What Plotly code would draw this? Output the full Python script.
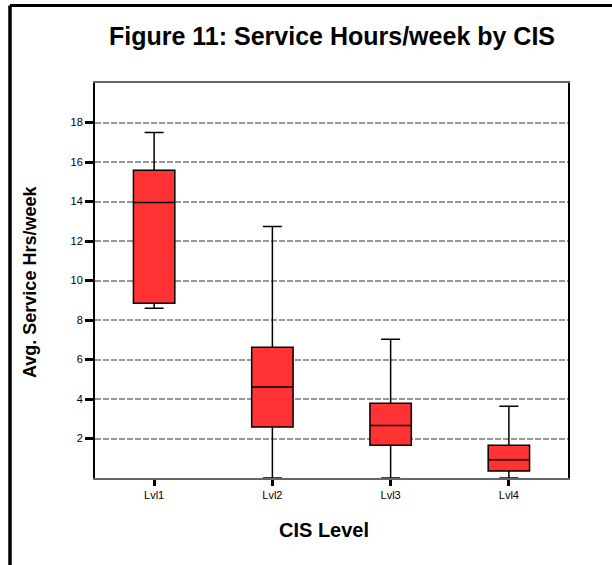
import plotly.graph_objects as go

# Data
categories = ["Lvl1", "Lvl2", "Lvl3", "Lvl4"]
lower_whisker = [8.6, 0.0, 0.0, 0.0]
q1_values = [8.85, 2.58, 1.66, 0.36]
median_values = [13.95, 4.61, 2.66, 0.93]
q3_values = [15.58, 6.62, 3.78, 1.66]
upper_whisker = [17.5, 12.73, 7.03, 3.63]
y_tick_values = [2, 4, 6, 8, 10, 12, 14, 16, 18]

W, H = 612, 565
L, R, T, B = 95, 568, 83, 478  # plot area in px


def px_x(px):
    return (px - L) / (R - L)


def px_y(py):
    return (B - py) / (B - T)


FONT = "Liberation Sans, Arial, sans-serif"

fig = go.Figure()
fig.add_trace(go.Box(
    x=categories,
    q1=q1_values,
    median=median_values,
    q3=q3_values,
    lowerfence=lower_whisker,
    upperfence=upper_whisker,
    fillcolor="#FF3333",
    line=dict(color="black", width=1.5),
    whiskerwidth=0.46,
    boxpoints=False,
    showlegend=False,
    hoverinfo="skip",
))

fig.update_layout(
    width=W, height=H,
    margin=dict(l=L, r=W - R, t=T, b=H - B),
    paper_bgcolor="white",
    plot_bgcolor="white",
    boxgap=0.5,
    font=dict(family=FONT, color="black"),
    showlegend=False,
)

fig.update_xaxes(
    type="category",
    range=[-0.5, 3.5],
    showline=True, linecolor="#666666", linewidth=2, mirror=True,
    ticks="outside", ticklen=6, tickwidth=3, tickcolor="black",
    tickfont=dict(size=11, family=FONT, color="black"),
    showgrid=False, zeroline=False,
)
fig.update_yaxes(
    range=[0, 20],
    tickvals=y_tick_values,
    ticktext=[str(v) for v in y_tick_values],
    showline=True, linecolor="black", linewidth=2, mirror=True,
    ticks="outside", ticklen=8, tickwidth=3, tickcolor="black",
    tickfont=dict(size=11, family=FONT, color="black"),
    showgrid=True, gridcolor="#999999", gridwidth=1.5, griddash="6px,2px",
    zeroline=False,
)

annotations = [
    dict(text="<b>Figure 11: Service Hours/week by CIS</b>",
         x=px_x(332), y=px_y(36), xref="paper", yref="paper",
         xanchor="center", yanchor="middle", showarrow=False,
         font=dict(size=25, family=FONT, color="black")),
    dict(text="<b>CIS Level</b>",
         x=px_x(323.5), y=px_y(530), xref="paper", yref="paper",
         xanchor="center", yanchor="middle", showarrow=False,
         font=dict(size=20, family=FONT, color="black")),
    dict(text="<b>Avg. Service Hrs/week</b>",
         x=px_x(30), y=px_y(282), xref="paper", yref="paper",
         xanchor="center", yanchor="middle", showarrow=False, textangle=-90,
         font=dict(size=18, family=FONT, color="black")),
]
fig.update_layout(annotations=annotations)

# Outer frame lines (top and left)
fig.add_shape(type="line", xref="paper", yref="paper",
              x0=px_x(10), y0=px_y(5.5), x1=px_x(612), y1=px_y(5.5),
              line=dict(color="black", width=3))
fig.add_shape(type="line", xref="paper", yref="paper",
              x0=px_x(10), y0=px_y(5.5), x1=px_x(10), y1=px_y(565),
              line=dict(color="black", width=3.5))

fig.write_html("out.html",
               config={"displayModeBar": False},
               post_script="document.body.style.margin='0';")
